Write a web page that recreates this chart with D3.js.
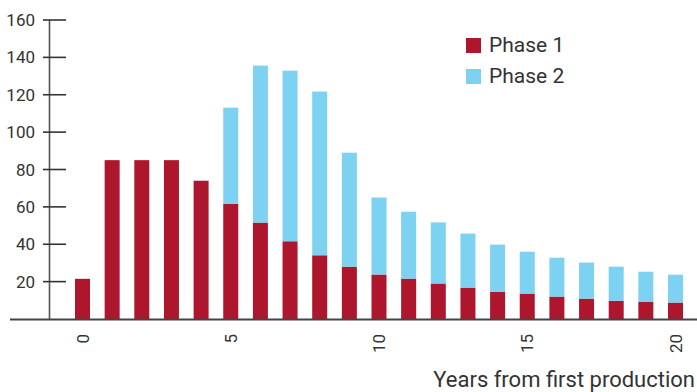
<!DOCTYPE html>
<html><head><meta charset="utf-8">
<script src="https://cdn.jsdelivr.net/npm/d3@7"></script>
<style>body{margin:0;background:#fff}svg{display:block}text{font-family:Roboto,"Noto Sans",sans-serif;fill:#333}</style>
</head><body>
<svg id="c" width="697" height="392"></svg>
<script>
const years = d3.range(0, 21);
const phase1 = [21.5, 85, 85, 85, 74, 61.7, 51.6, 41.6, 34.1, 28, 23.8, 21.6, 19, 16.8, 14.6, 13.6, 12, 10.9, 9.8, 9.3, 8.8];
const phase2 = [0, 0, 0, 0, 0, 51.4, 84, 91.3, 87.6, 61, 41.2, 35.8, 32.7, 28.9, 25.2, 22.4, 20.8, 19.3, 18.2, 16, 14.9];
const yTicks = [20, 40, 60, 80, 100, 120, 140, 160];
const xTicks = [0, 5, 10, 15, 20];
const seriesNames = ["Phase 1", "Phase 2"];
const colors = ["#AE162E", "#7CD2F0"];

const svg = d3.select("#c");
const x = d3.scaleLinear().domain([0, 20]).range([82.5, 675.5]);
const y = d3.scaleLinear().domain([0, 160]).range([319, 20]);
const bw = 15;

const rows = years.map((yr, i) => ({year: yr, p1: phase1[i], p2: phase2[i]}));
const stack = d3.stack().keys(["p1", "p2"])(rows);

svg.append("g").selectAll("g").data(stack).join("g")
  .attr("fill", (d, i) => colors[i])
  .selectAll("rect").data(d => d).join("rect")
  .attr("x", d => x(d.data.year) - bw / 2)
  .attr("width", bw)
  .attr("y", d => y(d[1]))
  .attr("height", d => Math.max(0, y(d[0]) - y(d[1])));

// y axis
const ya = svg.append("g");
ya.append("line").attr("x1", 49.5).attr("x2", 49.5).attr("y1", y(160)).attr("y2", y(0))
  .attr("stroke", "#555").attr("stroke-width", 1.6);
ya.selectAll("line.t").data(yTicks).join("line").attr("class", "t")
  .attr("x1", 43).attr("x2", 66).attr("y1", d => y(d)).attr("y2", d => y(d))
  .attr("stroke", "#333").attr("stroke-width", 1.6);
ya.selectAll("text").data(yTicks).join("text")
  .attr("x", 35).attr("y", d => y(d)).attr("dy", "0.36em")
  .attr("text-anchor", "end").attr("font-size", 17).text(d => d);

// x axis baseline
svg.append("line").attr("x1", 10).attr("x2", 697).attr("y1", 319.5).attr("y2", 319.5)
  .attr("stroke", "#444").attr("stroke-width", 2);

svg.append("g").selectAll("text").data(xTicks).join("text")
  .attr("transform", d => `translate(${x(d)},334) rotate(-90)`)
  .attr("text-anchor", "end").attr("dy", "0.36em").attr("font-size", 17).text(d => d);

svg.append("text").attr("x", 695).attr("y", 387).attr("text-anchor", "end")
  .attr("font-size", 22).text("Years from first production");

// legend
const lg = svg.append("g").selectAll("g").data(seriesNames).join("g")
  .attr("transform", (d, i) => `translate(466,${38 + i * 31})`);
lg.append("rect").attr("width", 15).attr("height", 15).attr("fill", (d, i) => colors[i]);
lg.append("text").attr("x", 23).attr("y", 14).attr("font-size", 21).text(d => d);
</script>
</body></html>
